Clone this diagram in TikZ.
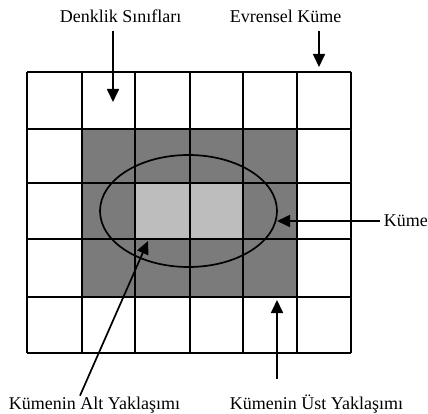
\documentclass[tikz,border=0pt]{standalone}
\usepackage{fontspec}
\setmainfont{Liberation Serif}
\usetikzlibrary{arrows.meta,shapes.geometric}
\definecolor{koyugri}{HTML}{7B7B7B}
\definecolor{acikgri}{HTML}{BDBDBD}
\begin{document}
\begin{tikzpicture}[x=1pt, y=-1pt, line width=1.7pt, line join=round,
  >={Triangle[length=13pt,width=12pt]},
  etiket/.style={inner sep=0pt, font=\fontsize{18}{21}\selectfont, anchor=base west}]
\useasboundingbox (0,0) rectangle (428,414);
% ust ve alt yaklasim bolgeleri
\fill[koyugri] (82,129) rectangle (297,297);
\fill[acikgri] (135,183) rectangle (243,239);
% denklik siniflari (izgara)
\foreach \x in {27,82,135,190,243,297,351} \draw (\x,72) -- (\x,353);
\foreach \y in {72,129,183,239,297,353} \draw (27,\y) -- (351,\y);
% kume
\node[ellipse, draw, inner sep=0pt, minimum width=177pt, minimum height=112pt] (kume) at (188.5,211) {};
% etiketler
\node[etiket] (den) at (59,23) {Denklik Sınıfları};
\node[etiket] (evr) at (229,23) {Evrensel Küme};
\node[etiket] (kme) at (383,226) {Küme};
\node[etiket] (alt) at (8,409) {Kümenin Alt Yaklaşımı};
\node[etiket] (ust) at (229,409) {Kümenin Üst Yaklaşımı};
\coordinate (dtip) at (113,102);
\coordinate (etip) at (319,67);
\coordinate (ktip) at (277,221);
\coordinate (atip) at (148,241);
\coordinate (utip) at (277,300);
% oklar
\draw[->, shorten <=7pt] (den.south -| dtip) -- (dtip);
\draw[->, shorten <=7pt] (evr.south -| etip) -- (etip);
\draw[->, shorten <=3pt] (kme.west |- ktip) -- (ktip);
\draw[->] (alt.north -| 80,0) -- (atip);
\draw[->, shorten <=15pt] (ust.north -| utip) -- (utip);
\end{tikzpicture}
\end{document}
